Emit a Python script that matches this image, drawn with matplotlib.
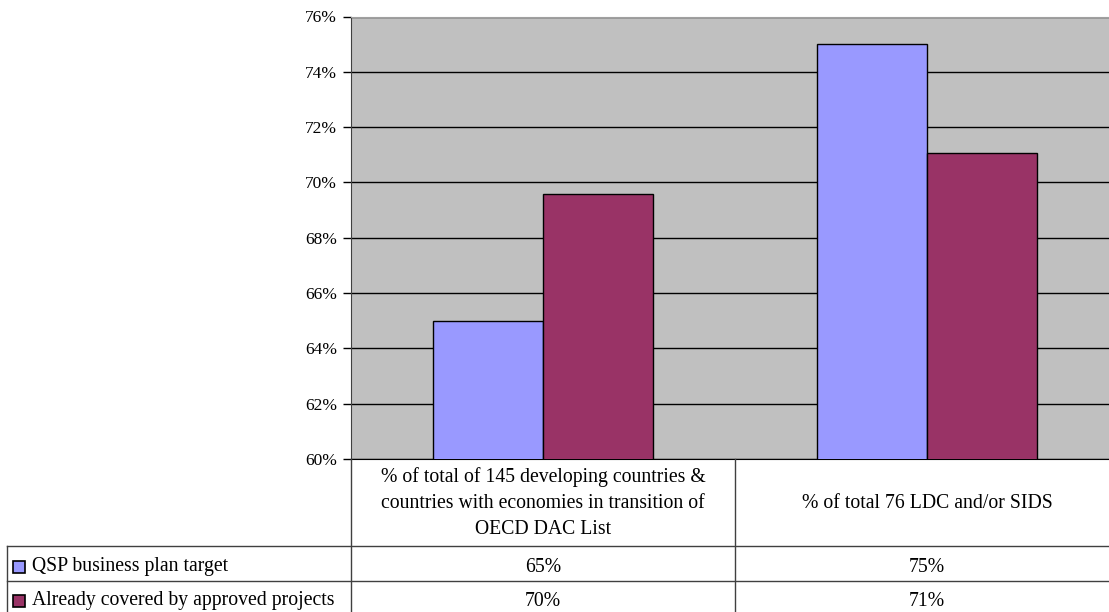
import matplotlib
matplotlib.use("Agg")
import matplotlib.pyplot as plt
from matplotlib.lines import Line2D
from matplotlib.patches import Rectangle
from matplotlib.transforms import blended_transform_factory
from matplotlib.ticker import FuncFormatter, MultipleLocator

plt.rcParams["font.family"] = ["Liberation Serif", "DejaVu Serif"]

# Data
categories = [
    "% of total of 145 developing countries &\ncountries with economies in transition of\nOECD DAC List",
    "% of total 76 LDC and/or SIDS",
]
series_names = ["QSP business plan target", "Already covered by approved projects"]
target = [65.0, 75.0]
covered = [69.6, 71.05]

BLUE = "#9999ff"
MAROON = "#993366"
PLOT_BG = "#c0c0c0"
LINE = "#404040"

W, H = 1109, 612
fig = plt.figure(figsize=(W / 100, H / 100), dpi=100)
fig.patch.set_facecolor("white")

# plot area (runs past the right edge of the canvas)
left, right, top, bottom = 351, 1119, 16.5, 459
ax = fig.add_axes([left / W, 1 - bottom / H, (right - left) / W, (bottom - top) / H])
ax.set_facecolor(PLOT_BG)

x = list(range(len(categories)))
bw = 0.286
ax.bar([i - bw / 2 for i in x], target, width=bw, bottom=0, color=BLUE,
       edgecolor="black", linewidth=1.0, zorder=3)
ax.bar([i + bw / 2 for i in x], covered, width=bw, bottom=0, color=MAROON,
       edgecolor="black", linewidth=1.0, zorder=3)

ax.set_xlim(-0.5, len(categories) - 0.5)
ax.set_ylim(60, 76)
ax.yaxis.set_major_locator(MultipleLocator(2))
ax.yaxis.set_major_formatter(FuncFormatter(lambda v, _: f"{v:.0f}%"))
ax.yaxis.grid(True, color="black", linewidth=1.0, zorder=1)
ax.set_axisbelow(True)
ax.set_xticks([])
ax.tick_params(axis="y", direction="out", length=6, width=1, color="black",
               labelsize=12.5, pad=4)
ax.spines["left"].set_color(LINE)
ax.spines["bottom"].set_color("black")
ax.spines["top"].set_color("#a0a0a0")
ax.spines["right"].set_visible(False)

# data table below the plot, in pixel coordinates
ov = fig.add_axes([0, 0, 1, 1], zorder=5)
ov.set_xlim(0, W)
ov.set_ylim(H, 0)
ov.axis("off")
ov.patch.set_alpha(0)

row_head_bot = 546
row1_bot = 581
tx = blended_transform_factory(ax.transData, ov.transData)

# horizontal rules
for y in (row_head_bot, row1_bot):
    ov.add_line(Line2D([7, W], [y, y], color=LINE, linewidth=1.0))
# vertical rules
ov.add_line(Line2D([left, left], [bottom, H], color=LINE, linewidth=1.0))
ov.add_line(Line2D([7, 7], [row_head_bot, H], color=LINE, linewidth=1.0))
ov.add_line(Line2D([0.5, 0.5], [bottom, H], color=LINE, linewidth=1.0,
                   transform=tx))

# category header cells
for i, cat in enumerate(categories):
    ov.text(i, 503, cat, transform=tx, ha="center", va="center",
            fontsize=14.2, linespacing=1.48)

# value rows with legend keys
rows = [(target, BLUE, 567), (covered, MAROON, 601)]
for name, (vals, col, yc) in zip(series_names, rows):
    ov.add_patch(Rectangle((13, yc - 6.5), 12, 12, facecolor=col,
                           edgecolor="black", linewidth=1.2))
    ov.text(32, yc, name, ha="left", va="center", fontsize=14.2)
    for i, v in enumerate(vals):
        ov.text(i, yc, f"{v:.0f}%", transform=tx, ha="center", va="center",
                fontsize=14.2)

fig.savefig("out.png", dpi=100, facecolor="white")
